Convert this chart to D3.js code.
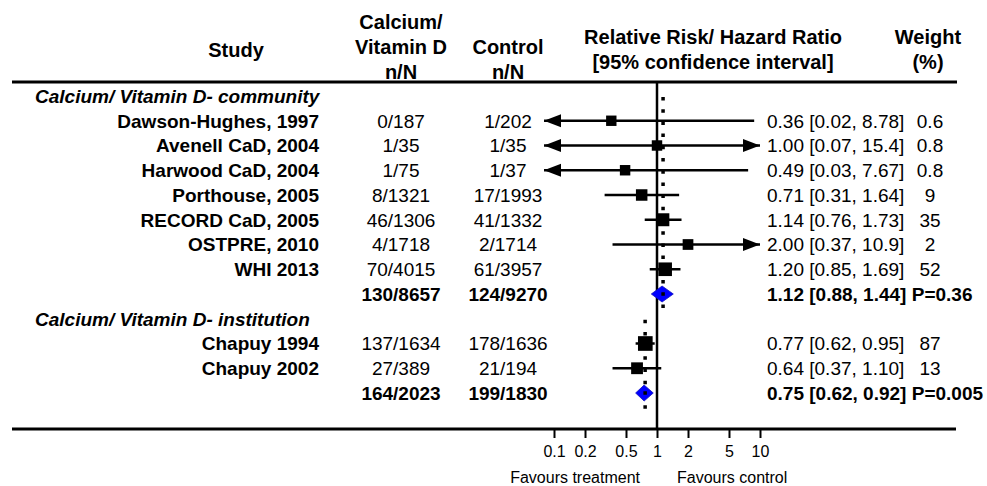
<!DOCTYPE html>
<html>
<head>
<meta charset="utf-8">
<script src="https://cdn.jsdelivr.net/npm/d3@7"></script>
<style>
	body { margin: 0; background: #fff; }
	svg { display: block; font-family: Arial, 'Liberation Sans', Helvetica, sans-serif; }
	text { fill: #000; }
</style>
</head>
<body>
<div id="chart"></div>
<script>
// study rows, grouped
const groups = ['Calcium/ Vitamin D- community', 'Calcium/ Vitamin D- institution']
const studies = ['Dawson-Hughes, 1997', 'Avenell CaD, 2004', 'Harwood CaD, 2004', 'Porthouse, 2005',
	'RECORD CaD, 2005', 'OSTPRE, 2010', 'WHI 2013', 'Chapuy 1994', 'Chapuy 2002']
const studyGroup = [0, 0, 0, 0, 0, 0, 0, 1, 1]
const treatN = ['0/187', '1/35', '1/75', '8/1321', '46/1306', '4/1718', '70/4015', '137/1634', '27/389']
const controlN = ['1/202', '1/35', '1/37', '17/1993', '41/1332', '2/1714', '61/3957', '178/1636', '21/194']
const rr = [0.36, 1.00, 0.49, 0.71, 1.14, 2.00, 1.20, 0.77, 0.64]
const lo = [0.02, 0.07, 0.03, 0.31, 0.76, 0.37, 0.85, 0.62, 0.37]
const hi = [8.78, 15.4, 7.67, 1.64, 1.73, 10.9, 1.69, 0.95, 1.10]
const rrLabel = ['0.36', '1.00', '0.49', '0.71', '1.14', '2.00', '1.20', '0.77', '0.64']
const ciLabel = ['[0.02, 8.78]', '[0.07, 15.4]', '[0.03, 7.67]', '[0.31, 1.64]', '[0.76, 1.73]',
	'[0.37, 10.9]', '[0.85, 1.69]', '[0.62, 0.95]', '[0.37, 1.10]']
const weights = [0.6, 0.8, 0.8, 9, 35, 2, 52, 87, 13]
const weightLabel = ['0.6', '0.8', '0.8', '9', '35', '2', '52', '87', '13']

// pooled results per group
const pooledTreat = ['130/8657', '164/2023']
const pooledControl = ['124/9270', '199/1830']
const pooledRR = [1.12, 0.75]
const pooledLo = [0.88, 0.62]
const pooledHi = [1.44, 0.92]
const pooledLabel = ['1.12 [0.88, 1.44] P=0.36', '0.75 [0.62, 0.92] P=0.005']

const tickValues = [0.1, 0.2, 0.5, 1, 2, 5, 10]
const xDomain = [0.1, 10]
const clipLo = 0.08 // arrows start here
const clipHi = 10

const width = 987
const height = 486

const svg = d3.select('#chart')
	.append('svg')
	.attr('width', width)
	.attr('height', height)

// build row layout: header, studies, pooled for each group
const rows = []
groups.forEach((g, gi) => {
	rows.push({ type: 'group', g: gi })
	studies.forEach((s, i) => { if (studyGroup[i] === gi) rows.push({ type: 'study', i }) })
	rows.push({ type: 'pooled', g: gi })
})
rows.forEach((r, k) => { r.k = k })

const x = d3.scaleLog().domain(xDomain).range([554, 760])
const y = d3.scaleLinear().domain([0, rows.length - 1]).range([96, 393])
const size = d3.scaleSqrt().domain([0, 100]).range([10, 15])

const FS = 19

// header
const header = svg.append('g').attr('font-weight', 'bold').attr('font-size', 20).attr('text-anchor', 'middle')
const headText = [
	['Study', 236, 50],
	['Calcium/', 401, 22], ['Vitamin D', 401, 47], ['n/N', 401, 72],
	['Control', 508, 47], ['n/N', 508, 72],
	['Relative Risk/ Hazard Ratio', 713, 37], ['[95% confidence interval]', 713, 62],
	['Weight', 928, 37], ['(%)', 928, 62],
]
header.selectAll('text')
	.data(headText)
	.join('text')
	.attr('x', d => d[1])
	.attr('y', d => d[2])
	.attr('dy', '0.36em')
	.text(d => d[0])

svg.append('line')
	.attr('x1', 12).attr('x2', 957)
	.attr('y1', 82).attr('y2', 82)
	.attr('stroke', '#000').attr('stroke-width', 3)

// vertical line of no effect
svg.append('line')
	.attr('x1', x(1)).attr('x2', x(1))
	.attr('y1', 82).attr('y2', 429)
	.attr('stroke', '#000').attr('stroke-width', 2.5)

// dotted lines at pooled estimate
groups.forEach((g, gi) => {
	const top = rows.find(r => r.type === 'group' && r.g === gi).k
	const bot = rows.find(r => r.type === 'pooled' && r.g === gi).k
	svg.append('line')
		.attr('x1', x(pooledRR[gi]) + 1).attr('x2', x(pooledRR[gi]) + 1)
		.attr('y1', y(top) + 1).attr('y2', y(bot) + 16)
		.attr('stroke', '#000').attr('stroke-width', 3.5)
		.attr('stroke-dasharray', '3.5,8.7')
})

const body = svg.append('g').attr('font-size', FS)

// group headings
body.selectAll('text.group')
	.data(rows.filter(r => r.type === 'group'))
	.join('text')
	.attr('class', 'group')
	.attr('x', 35)
	.attr('y', d => y(d.k))
	.attr('dy', '0.36em')
	.attr('font-weight', 'bold')
	.attr('font-style', 'italic')
	.text(d => groups[d.g])

const studyRows = rows.filter(r => r.type === 'study')

body.selectAll('text.name')
	.data(studyRows)
	.join('text')
	.attr('class', 'name')
	.attr('x', 319)
	.attr('y', d => y(d.k))
	.attr('dy', '0.36em')
	.attr('text-anchor', 'end')
	.attr('font-weight', 'bold')
	.text(d => studies[d.i])

const cols = [
	[treatN, 401, 'middle'],
	[controlN, 508, 'middle'],
]
cols.forEach(([arr, cx, anchor]) => {
	body.append('g').selectAll('text')
		.data(studyRows)
		.join('text')
		.attr('x', cx)
		.attr('y', d => y(d.k))
		.attr('dy', '0.36em')
		.attr('text-anchor', anchor)
		.text(d => arr[d.i])
})

body.append('g').selectAll('text')
	.data(studyRows)
	.join('text')
	.attr('x', 767)
	.attr('y', d => y(d.k))
	.attr('dy', '0.36em')
	.text(d => `${rrLabel[d.i]} ${ciLabel[d.i]}`)

body.append('g').selectAll('text')
	.data(studyRows)
	.join('text')
	.attr('x', 930)
	.attr('y', d => y(d.k))
	.attr('dy', '0.36em')
	.attr('text-anchor', 'middle')
	.text(d => weightLabel[d.i])

// pooled text rows
const pooledRows = rows.filter(r => r.type === 'pooled')
const pooledCols = [
	[pooledTreat, 401, 'middle'],
	[pooledControl, 508, 'middle'],
	[pooledLabel, 767, 'start'],
]
pooledCols.forEach(([arr, cx, anchor]) => {
	body.append('g').selectAll('text')
		.data(pooledRows)
		.join('text')
		.attr('x', cx)
		.attr('y', d => y(d.k))
		.attr('dy', '0.36em')
		.attr('text-anchor', anchor)
		.attr('font-weight', 'bold')
		.text(d => arr[d.g])
})

// CI lines with arrows where clipped
const marks = svg.append('g')
const arrowLen = 17
const arrowHalf = 6.5
studyRows.forEach(d => {
	const yy = y(d.k)
	const l = Math.max(lo[d.i], clipLo)
	const h = Math.min(hi[d.i], clipHi)
	marks.append('line')
		.attr('x1', x(l)).attr('x2', x(h))
		.attr('y1', yy).attr('y2', yy)
		.attr('stroke', '#000').attr('stroke-width', 2.5)
	if (lo[d.i] < clipLo) {
		const tip = x(clipLo)
		marks.append('path')
			.attr('d', `M${tip},${yy}L${tip + arrowLen},${yy - arrowHalf}L${tip + arrowLen},${yy + arrowHalf}Z`)
			.attr('fill', '#000')
	}
	if (hi[d.i] > clipHi) {
		const tip = x(clipHi)
		marks.append('path')
			.attr('d', `M${tip},${yy}L${tip - arrowLen},${yy - arrowHalf}L${tip - arrowLen},${yy + arrowHalf}Z`)
			.attr('fill', '#000')
	}
	const s = size(weights[d.i])
	marks.append('rect')
		.attr('x', x(rr[d.i]) - s / 2)
		.attr('y', yy - s / 2)
		.attr('width', s)
		.attr('height', s)
		.attr('fill', '#000')
})

// pooled diamonds
pooledRows.forEach(d => {
	const yy = y(d.k)
	marks.append('path')
		.attr('d', `M${x(pooledLo[d.g])},${yy}L${x(pooledRR[d.g])},${yy - 8}L${x(pooledHi[d.g])},${yy}L${x(pooledRR[d.g])},${yy + 8}Z`)
		.attr('fill', '#0000ff')
		.attr('stroke', '#1010c0')
		.attr('stroke-width', 0.8)
	marks.append('rect')
		.attr('x', x(pooledRR[d.g]) - 0.75)
		.attr('y', yy - 1.75)
		.attr('width', 3.5)
		.attr('height', 3.5)
		.attr('fill', '#000')
})

// bottom axis
svg.append('line')
	.attr('x1', 12).attr('x2', 956)
	.attr('y1', 429).attr('y2', 429)
	.attr('stroke', '#000').attr('stroke-width', 3)

const axis = d3.axisBottom(x)
	.tickValues(tickValues)
	.tickFormat(d3.format('~g'))
	.tickSize(8)
	.tickPadding(8)

const axisG = svg.append('g')
	.attr('transform', 'translate(0,430)')
	.call(axis)
axisG.select('.domain').remove()
axisG.selectAll('.tick line').attr('stroke', '#000').attr('stroke-width', 2)
axisG.selectAll('.tick text')
	.attr('font-size', 16)
	.attr('font-family', null)
	.attr('fill', '#000')

svg.append('text')
	.attr('x', x(1) - 17)
	.attr('y', 477)
	.attr('dy', '0.36em')
	.attr('font-size', 16)
	.attr('text-anchor', 'end')
	.text('Favours treatment')

svg.append('text')
	.attr('x', x(1) + 20)
	.attr('y', 477)
	.attr('dy', '0.36em')
	.attr('font-size', 16)
	.text('Favours control')
</script>
</body>
</html>
